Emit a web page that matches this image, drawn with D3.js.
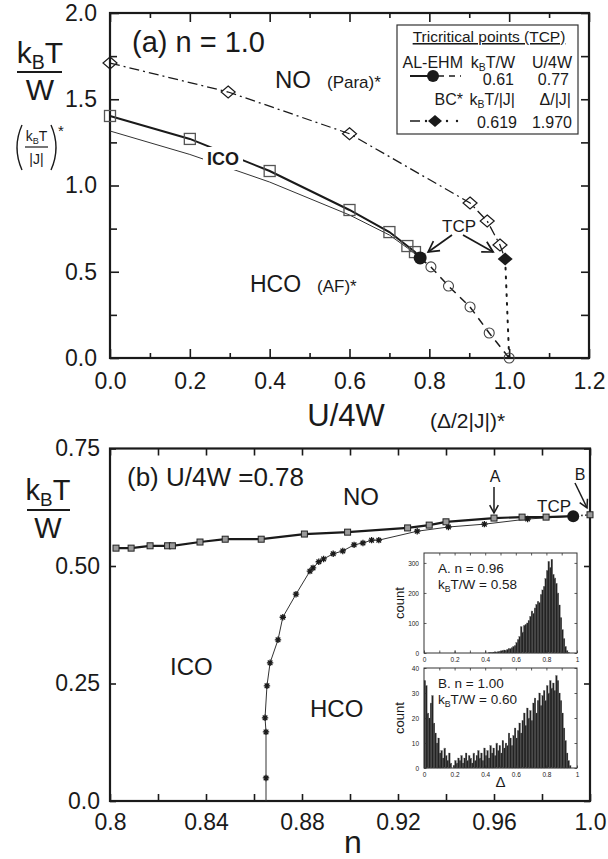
<!DOCTYPE html>
<html><head><meta charset="utf-8">
<script src="https://cdn.jsdelivr.net/npm/d3@7"></script>
<style>
body{margin:0;background:#fff}
svg{display:block}
text{font-family:"Liberation Sans",Arial,sans-serif;fill:#1a1a1a}
</style>
</head><body>
<svg id="c" width="608" height="859"></svg>
<script>
// ---------------- DATA ----------------
// Panel (a): n = 1.0
const aXTicks = [0, 0.2, 0.4, 0.6, 0.8, 1.0, 1.2];
const aXMinor = [0.1, 0.3, 0.5, 0.7, 0.9, 1.1];
const aYTicks = [0, 0.5, 1.0, 1.5, 2.0];
const aYMinor = [0.25, 0.75, 1.25, 1.75];
// BC* (open diamonds, dash-dot)
const bcU = [0, 0.296, 0.6, 0.902, 0.945, 0.977];
const bcT = [1.71, 1.542, 1.30, 0.899, 0.794, 0.655];
const bcTcp = [0.99, 0.574];
const bcEnd = [1.0, 0.0];
// AL-EHM (open squares, thick solid)
const alU = [0, 0.2, 0.4, 0.6, 0.7, 0.745, 0.764];
const alT = [1.403, 1.27, 1.084, 0.858, 0.73, 0.649, 0.614];
const alTcp = [0.777, 0.58];
// thin solid line
const thinU = [0, 0.2, 0.4, 0.6, 0.7, 0.745, 0.777];
const thinT = [1.316, 1.18, 1.02, 0.829, 0.713, 0.638, 0.58];
// open circles, dashed (first-order line)
const circU = [0.804, 0.848, 0.902, 0.95, 1.0];
const circT = [0.528, 0.417, 0.296, 0.145, 0.0];

// Panel (b): U/4W = 0.78
const bXTicks = [0.8, 0.84, 0.88, 0.92, 0.96, 1.0];
const bXLabels = ["0.8", "0.84", "0.88", "0.92", "0.96", "1.0"];
const bXMinor = [0.82, 0.86, 0.90, 0.94, 0.98];
const bYTicks = [0, 0.25, 0.5, 0.75];
const bYLabels = ["0.0", "0.25", "0.50", "0.75"];
const sqN = [0.8025, 0.8088, 0.8167, 0.824, 0.826, 0.8375, 0.848, 0.863, 0.881, 0.899, 0.924, 0.933, 0.940, 0.96, 0.9717, 0.9817];
const sqT = [0.538, 0.538, 0.543, 0.543, 0.543, 0.551, 0.557, 0.557, 0.568, 0.572, 0.581, 0.587, 0.594, 0.602, 0.604, 0.604];
const bTcp = [0.993, 0.606];
const bEnd = [1.0, 0.609];
const astStart = [0.865, 0.0];
const astN = [0.865, 0.865, 0.8646, 0.8654, 0.8667, 0.870, 0.872, 0.8775, 0.8833, 0.8846, 0.887, 0.889, 0.893, 0.897, 0.9017, 0.9054, 0.909, 0.912, 0.928, 0.941, 0.956, 0.974];
const astT = [0.049, 0.147, 0.177, 0.245, 0.294, 0.343, 0.391, 0.440, 0.489, 0.496, 0.509, 0.515, 0.526, 0.532, 0.545, 0.549, 0.555, 0.555, 0.574, 0.583, 0.589, 0.600];

// Insets: histogram counts in bins of width 0.01 over Delta in [0,1)
const histXTicks = [0, 0.2, 0.4, 0.6, 0.8, 1];
const histAYTicks = [0, 100, 200, 300];
const histBYTicks = [0, 10, 20, 30, 40];
const histA = [
0,0,0,0,0,0,0,0,0,0,
0,0,0,0,0,0,0,0,0,0,
0,0,0,0,0,0,0,0,0,0,
0,0,0,0,0,0,0,0,0,0,
0,0,1,2,1,3,4,3,5,6,
7,8,10,9,12,14,15,18,22,25,
35,45,55,88,70,92,95,100,108,122,
140,132,150,162,172,168,195,210,222,248,
275,305,285,312,262,250,232,200,160,118,
78,48,22,8,2,0,0,0,0,0];
const histB = [
35,33,22,20,26,29,18,14,10,12,
6,7,4,8,5,3,6,2,0,1,
3,2,4,3,5,2,4,6,3,5,
4,2,6,3,5,7,4,6,3,8,
5,7,4,9,6,8,5,10,7,9,
6,11,8,10,9,14,12,9,13,16,
12,15,18,14,19,22,17,24,20,23,
19,26,28,22,27,30,25,29,31,27,
33,30,35,32,34,31,37,35,30,27,
22,16,11,6,3,1,0,0,0,0];

// ---------------- DRAW ----------------
const svg = d3.select("#c");
svg.append("rect").attr("width", 608).attr("height", 859).attr("fill", "#fff");
const ink = "#1a1a1a";
const FONT = "Liberation Sans, Arial, sans-serif";

const xA = d3.scaleLinear().domain([0, 1.2]).range([110, 589]);
const yA = d3.scaleLinear().domain([0, 2]).range([358, 13]);
const xB = d3.scaleLinear().domain([0.8, 1.0]).range([110, 590]);
const yB = d3.scaleLinear().domain([0, 0.75]).range([801, 448.5]);

function styleAxis(g, fs) {
  g.attr("font-family", FONT).attr("font-size", fs);
  g.select(".domain").remove();
  g.selectAll(".tick line").attr("stroke", ink).attr("stroke-width", 1.6);
  g.selectAll(".tick text").attr("fill", ink);
}
function addAxis(gen, tx, ty, fs) {
  const g = svg.append("g").attr("transform", `translate(${tx},${ty})`).call(gen);
  styleAxis(g, fs);
  return g;
}

// ---- Panel (a) axes ----
addAxis(d3.axisBottom(xA).tickValues(aXTicks).tickFormat(d3.format(".1f")).tickSizeInner(-9).tickSizeOuter(0).tickPadding(15), 0, yA(0), 23);
addAxis(d3.axisBottom(xA).tickValues(aXMinor).tickFormat("").tickSizeInner(-5).tickSizeOuter(0), 0, yA(0), 23);
addAxis(d3.axisTop(xA).tickValues(aXTicks).tickFormat("").tickSizeInner(-9).tickSizeOuter(0), 0, yA(2), 23);
addAxis(d3.axisTop(xA).tickValues(aXMinor).tickFormat("").tickSizeInner(-5).tickSizeOuter(0), 0, yA(2), 23);
addAxis(d3.axisLeft(yA).tickValues(aYTicks).tickFormat(d3.format(".1f")).tickSizeInner(-9).tickSizeOuter(0).tickPadding(13), xA(0), 0, 23);
addAxis(d3.axisLeft(yA).tickValues(aYMinor).tickFormat("").tickSizeInner(-7).tickSizeOuter(0), xA(0), 0, 23);
addAxis(d3.axisRight(yA).tickValues(aYTicks.concat(aYMinor)).tickFormat("").tickSizeInner(-8).tickSizeOuter(0), xA(1.2), 0, 23);
svg.append("rect").attr("x", xA(0)).attr("y", yA(2)).attr("width", xA(1.2) - xA(0)).attr("height", yA(0) - yA(2))
  .attr("fill", "none").attr("stroke", ink).attr("stroke-width", 2.2);

const lineA = d3.line().x(d => xA(d[0])).y(d => yA(d[1]));
const zip = (a, b) => a.map((v, i) => [v, b[i]]);

const gA = svg.append("g");
// dash-dot BC line
gA.append("path").attr("d", lineA(zip(bcU, bcT).concat([bcTcp]))).attr("fill", "none").attr("stroke", ink)
  .attr("stroke-width", 1.3).attr("stroke-dasharray", "10,4,2,4");
// dotted BC line to the axis
gA.append("path").attr("d", lineA([bcTcp, bcEnd])).attr("fill", "none").attr("stroke", ink)
  .attr("stroke-width", 2).attr("stroke-dasharray", "1.8,7").attr("stroke-linecap", "round");
// thin solid
gA.append("path").attr("d", lineA(zip(thinU, thinT))).attr("fill", "none").attr("stroke", "#333").attr("stroke-width", 1);
// thick solid
gA.append("path").attr("d", lineA(zip(alU, alT).concat([alTcp]))).attr("fill", "none").attr("stroke", ink).attr("stroke-width", 2);
// dashed circle line
gA.append("path").attr("d", lineA([alTcp].concat(zip(circU, circT)))).attr("fill", "none").attr("stroke", ink)
  .attr("stroke-width", 1.5).attr("stroke-dasharray", "8,6");

// markers
gA.selectAll(".sq").data(zip(alU, alT)).join("rect")
  .attr("x", d => xA(d[0]) - 5.5).attr("y", d => yA(d[1]) - 5.5).attr("width", 11).attr("height", 11)
  .attr("fill", "none").attr("stroke", "#555").attr("stroke-width", 1.3);
const diamond = (w, h) => `M0,${-h}L${w},0L0,${h}L${-w},0Z`;
gA.selectAll(".dm").data(zip(bcU, bcT)).join("path")
  .attr("transform", d => `translate(${xA(d[0])},${yA(d[1])})`).attr("d", diamond(7, 6))
  .attr("fill", "none").attr("stroke", ink).attr("stroke-width", 1.2);
gA.selectAll(".ci").data(zip(circU, circT)).join("circle")
  .attr("cx", d => xA(d[0])).attr("cy", d => yA(d[1])).attr("r", 5)
  .attr("fill", "none").attr("stroke", "#444").attr("stroke-width", 1.1);
gA.append("circle").attr("cx", xA(alTcp[0])).attr("cy", yA(alTcp[1])).attr("r", 6.5).attr("fill", ink);
gA.append("path").attr("transform", `translate(${xA(bcTcp[0])},${yA(bcTcp[1])})`).attr("d", diamond(7.5, 6.5)).attr("fill", ink);

// ICO label with white backing
gA.append("rect").attr("x", 203).attr("y", 147).attr("width", 40).attr("height", 23).attr("fill", "#fff");
gA.append("text").attr("x", 223).attr("y", 165).attr("text-anchor", "middle").attr("font-size", 18).attr("font-weight", "bold").text("ICO");

// text labels panel (a)
gA.append("text").attr("x", 132).attr("y", 52).attr("font-size", 29).text("(a) n = 1.0");
gA.append("text").attr("x", 275).attr("y", 88).attr("font-size", 24).text("NO");
gA.append("text").attr("x", 327).attr("y", 88).attr("font-size", 17).text("(Para)*");
gA.append("text").attr("x", 250).attr("y", 292).attr("font-size", 23).text("HCO");
gA.append("text").attr("x", 317).attr("y", 292).attr("font-size", 17).text("(AF)*");
gA.append("text").attr("x", 459).attr("y", 232).attr("text-anchor", "middle").attr("font-size", 17).text("TCP");

function arrow(g, x1, y1, x2, y2, len, sw) {
  const a = Math.atan2(y2 - y1, x2 - x1), ang = 0.5;
  g.append("line").attr("x1", x1).attr("y1", y1).attr("x2", x2).attr("y2", y2).attr("stroke", ink).attr("stroke-width", sw);
  g.append("path").attr("d", `M${x2 - len * Math.cos(a - ang)},${y2 - len * Math.sin(a - ang)}L${x2},${y2}L${x2 - len * Math.cos(a + ang)},${y2 - len * Math.sin(a + ang)}`)
    .attr("fill", "none").attr("stroke", ink).attr("stroke-width", sw);
}
arrow(gA, 452, 235, xA(alTcp[0]) + 8, yA(alTcp[1]) - 6, 12, 1.7);
arrow(gA, 463, 235, xA(bcTcp[0]) - 12, yA(bcTcp[1]) - 7, 12, 1.7);

// y-axis label panel (a)
function kbt(g, x, y, fs, rest, anchor) {
  const t = g.append("text").attr("x", x).attr("y", y).attr("font-size", fs).attr("text-anchor", anchor || "middle");
  t.append("tspan").text("k");
  t.append("tspan").attr("font-size", fs * 0.65).attr("dy", fs * 0.2).text("B");
  t.append("tspan").attr("dy", -fs * 0.2).text("T" + (rest || ""));
  return t;
}
kbt(svg, 40, 63, 30);
svg.append("line").attr("x1", 17).attr("x2", 62).attr("y1", 72).attr("y2", 72).attr("stroke", ink).attr("stroke-width", 2);
svg.append("text").attr("x", 40).attr("y", 100).attr("text-anchor", "middle").attr("font-size", 30).text("W");
svg.append("path").attr("d", "M22,125Q12,147.5 22,170").attr("fill", "none").attr("stroke", ink).attr("stroke-width", 1.4);
svg.append("path").attr("d", "M51,125Q61,147.5 51,170").attr("fill", "none").attr("stroke", ink).attr("stroke-width", 1.4);
kbt(svg, 36.5, 141, 14);
svg.append("line").attr("x1", 25).attr("x2", 48).attr("y1", 147).attr("y2", 147).attr("stroke", ink).attr("stroke-width", 1.2);
svg.append("text").attr("x", 36.5).attr("y", 164).attr("text-anchor", "middle").attr("font-size", 14).text("|J|");
svg.append("text").attr("x", 58).attr("y", 136).attr("font-size", 15).text("*");

// x-axis label panel (a)
svg.append("text").attr("x", 346).attr("y", 426).attr("text-anchor", "middle").attr("font-size", 31).text("U/4W");
svg.append("text").attr("x", 430).attr("y", 428).attr("font-size", 21).text("(Δ/2|J|)*");

// Legend
const lg = svg.append("g");
lg.append("rect").attr("x", 397).attr("y", 25).attr("width", 181).attr("height", 109).attr("fill", "#fff").attr("stroke", "#333").attr("stroke-width", 1.2);
lg.append("text").attr("x", 489).attr("y", 42).attr("text-anchor", "middle").attr("font-size", 15.5).attr("text-decoration", "underline").text("Tricritical points (TCP)");
lg.append("text").attr("x", 463).attr("y", 68).attr("text-anchor", "end").attr("font-size", 16).text("AL-EHM");
kbt(lg, 515, 68, 16, "/W", "end");
lg.append("text").attr("x", 572).attr("y", 68).attr("text-anchor", "end").attr("font-size", 16).text("U/4W");
lg.append("text").attr("x", 514).attr("y", 85).attr("text-anchor", "end").attr("font-size", 16).text("0.61");
lg.append("text").attr("x", 569).attr("y", 85).attr("text-anchor", "end").attr("font-size", 16).text("0.77");
lg.append("line").attr("x1", 410).attr("x2", 430).attr("y1", 76).attr("y2", 76).attr("stroke", ink).attr("stroke-width", 2);
lg.append("line").attr("x1", 438).attr("x2", 461).attr("y1", 76).attr("y2", 76).attr("stroke", ink).attr("stroke-width", 1.5).attr("stroke-dasharray", "6,5");
lg.append("circle").attr("cx", 433).attr("cy", 76).attr("r", 6).attr("fill", ink);
lg.append("text").attr("x", 463).attr("y", 105).attr("text-anchor", "end").attr("font-size", 16).text("BC*");
kbt(lg, 515, 105, 16, "/|J|", "end");
lg.append("text").attr("x", 571).attr("y", 105).attr("text-anchor", "end").attr("font-size", 16).text("Δ/|J|");
lg.append("text").attr("x", 517).attr("y", 128).attr("text-anchor", "end").attr("font-size", 16).text("0.619");
lg.append("text").attr("x", 572).attr("y", 128).attr("text-anchor", "end").attr("font-size", 16).text("1.970");
lg.append("line").attr("x1", 410).attr("x2", 420).attr("y1", 121).attr("y2", 121).attr("stroke", ink).attr("stroke-width", 1.5);
[426, 447, 457].forEach(cx => lg.append("circle").attr("cx", cx).attr("cy", 121).attr("r", 1.2).attr("fill", ink));
lg.append("path").attr("transform", "translate(435,121)").attr("d", diamond(7, 6)).attr("fill", ink);

// ---- Panel (b) axes ----
addAxis(d3.axisBottom(xB).tickValues(bXTicks).tickFormat((d, i) => bXLabels[i]).tickSizeInner(-7).tickSizeOuter(0).tickPadding(13), 0, yB(0), 23);
addAxis(d3.axisBottom(xB).tickValues(bXMinor).tickFormat("").tickSizeInner(-7).tickSizeOuter(0), 0, yB(0), 23);
addAxis(d3.axisTop(xB).tickValues(bXTicks.concat(bXMinor)).tickFormat("").tickSizeInner(-7).tickSizeOuter(0), 0, yB(0.75), 23);
addAxis(d3.axisLeft(yB).tickValues(bYTicks).tickFormat((d, i) => bYLabels[i]).tickSizeInner(-6).tickSizeOuter(0).tickPadding(10), xB(0.8), 0, 23);
addAxis(d3.axisRight(yB).tickValues(bYTicks).tickFormat("").tickSizeInner(-6).tickSizeOuter(0), xB(1.0), 0, 23);
svg.append("rect").attr("x", xB(0.8)).attr("y", yB(0.75)).attr("width", xB(1.0) - xB(0.8)).attr("height", yB(0) - yB(0.75))
  .attr("fill", "none").attr("stroke", ink).attr("stroke-width", 2.2);

const lineB = d3.line().x(d => xB(d[0])).y(d => yB(d[1]));
const gB = svg.append("g");
gB.append("path").attr("d", lineB([astStart].concat(zip(astN, astT), [bTcp]))).attr("fill", "none").attr("stroke", "#333").attr("stroke-width", 1);
gB.append("path").attr("d", lineB(zip(sqN, sqT).concat([bTcp]))).attr("fill", "none").attr("stroke", ink).attr("stroke-width", 2.2);
gB.append("path").attr("d", lineB([bTcp, bEnd])).attr("fill", "none").attr("stroke", ink).attr("stroke-width", 1.6).attr("stroke-dasharray", "1.5,2.5");
const s = 3.2, k = s * 0.72;
gB.selectAll(".as").data(zip(astN, astT)).join("path")
  .attr("transform", d => `translate(${xB(d[0])},${yB(d[1])})`)
  .attr("d", `M${-s},0H${s}M0,${-s}V${s}M${-k},${-k}L${k},${k}M${-k},${k}L${k},${-k}`)
  .attr("stroke", ink).attr("stroke-width", 1.3).attr("fill", "none");
gB.selectAll(".bs").data(zip(sqN, sqT).concat([bEnd])).join("rect")
  .attr("x", d => xB(d[0]) - 3).attr("y", d => yB(d[1]) - 3).attr("width", 6).attr("height", 6)
  .attr("fill", "#9a9a9a").attr("stroke", "#222").attr("stroke-width", 1);
gB.append("circle").attr("cx", xB(bTcp[0])).attr("cy", yB(bTcp[1])).attr("r", 6).attr("fill", ink);

gB.append("text").attr("x", 127).attr("y", 486).attr("font-size", 26).text("(b) U/4W =0.78");
gB.append("text").attr("x", 343).attr("y", 505).attr("font-size", 24).text("NO");
gB.append("text").attr("x", 170).attr("y", 675).attr("font-size", 24).text("ICO");
gB.append("text").attr("x", 310).attr("y", 717).attr("font-size", 24).text("HCO");
gB.append("text").attr("x", 495).attr("y", 482).attr("text-anchor", "middle").attr("font-size", 16).text("A");
gB.append("text").attr("x", 580).attr("y", 480).attr("text-anchor", "middle").attr("font-size", 16).text("B");
gB.append("text").attr("x", 554).attr("y", 512).attr("text-anchor", "middle").attr("font-size", 17).text("TCP");
arrow(gB, xB(0.96), 487, xB(0.96), yB(0.602) - 5, 9, 1.5);
arrow(gB, 575, 483, xB(1.0) - 3, yB(0.609) - 7, 9, 1.5);

// y label panel (b)
kbt(svg, 48, 500, 29);
svg.append("line").attr("x1", 27).attr("x2", 70).attr("y1", 510).attr("y2", 510).attr("stroke", ink).attr("stroke-width", 2);
svg.append("text").attr("x", 48).attr("y", 538).attr("text-anchor", "middle").attr("font-size", 29).text("W");
svg.append("text").attr("x", 353).attr("y", 853).attr("text-anchor", "middle").attr("font-size", 32).text("n");

// ---- Insets ----
function inset(hist, yMax, yTicks, top, bottom, title1, title2, showDelta) {
  const xI = d3.scaleLinear().domain([0, 1]).range([424, 577]);
  const yI = d3.scaleLinear().domain([0, yMax]).range([bottom, top]);
  const g = svg.append("g");
  g.append("rect").attr("x", xI(0)).attr("y", top).attr("width", xI(1) - xI(0)).attr("height", bottom - top).attr("fill", "#fff");
  const bw = xI(0.01) - xI(0);
  g.selectAll(".bar").data(hist).join("rect")
    .attr("x", (d, i) => xI(i / 100)).attr("width", bw + 0.15)
    .attr("y", d => yI(d)).attr("height", d => yI(0) - yI(d))
    .attr("fill", "#222").attr("stroke", "#666").attr("stroke-width", 0.25);
  g.append("rect").attr("x", xI(0)).attr("y", top).attr("width", xI(1) - xI(0)).attr("height", bottom - top)
    .attr("fill", "none").attr("stroke", "#333").attr("stroke-width", 1);
  const minorX = d3.range(1, 10).map(v => v / 10);
  const ax1 = g.append("g").attr("transform", `translate(0,${bottom})`).call(d3.axisBottom(xI).tickValues(histXTicks).tickSizeInner(-2.5).tickSizeOuter(0).tickPadding(4).tickFormat(d3.format("")));
  const ax2 = g.append("g").attr("transform", `translate(0,${top})`).call(d3.axisTop(xI).tickValues(minorX).tickSizeInner(-2.5).tickSizeOuter(0).tickFormat(""));
  const ax3 = g.append("g").attr("transform", `translate(${xI(0)},0)`).call(d3.axisLeft(yI).tickValues(yTicks).tickSizeInner(-2.5).tickSizeOuter(0).tickPadding(5));
  const ax4 = g.append("g").attr("transform", `translate(${xI(1)},0)`).call(d3.axisRight(yI).tickValues(yTicks).tickSizeInner(-2.5).tickSizeOuter(0).tickFormat(""));
  const ax5 = g.append("g").attr("transform", `translate(0,${bottom})`).call(d3.axisBottom(xI).tickValues(minorX).tickSizeInner(-2.5).tickSizeOuter(0).tickFormat(""));
  [ax1, ax2, ax3, ax4, ax5].forEach(a => {
    a.attr("font-family", FONT).attr("font-size", 6.5);
    a.select(".domain").remove();
    a.selectAll(".tick line").attr("stroke", "#333").attr("stroke-width", 0.8);
    a.selectAll(".tick text").attr("fill", "#555");
  });
  g.append("text").attr("transform", `translate(404,${(top + bottom) / 2}) rotate(-90)`).attr("text-anchor", "middle").attr("font-size", 13).text("count");
  g.append("text").attr("x", 438).attr("y", top + 20).attr("font-size", 13.5).text(title1);
  kbt(g, 438, top + 36, 13.5, "/W = " + title2, "start");
  if (showDelta) g.append("text").attr("x", xI(0.5)).attr("y", bottom + 19).attr("text-anchor", "middle").attr("font-size", 15).text("Δ");
}
inset(histA, 333, histAYTicks, 553, 653, "A. n = 0.96", "0.58", false);
inset(histB, 40, histBYTicks, 668, 768, "B. n = 1.00", "0.60", true);
</script>
</body></html>
